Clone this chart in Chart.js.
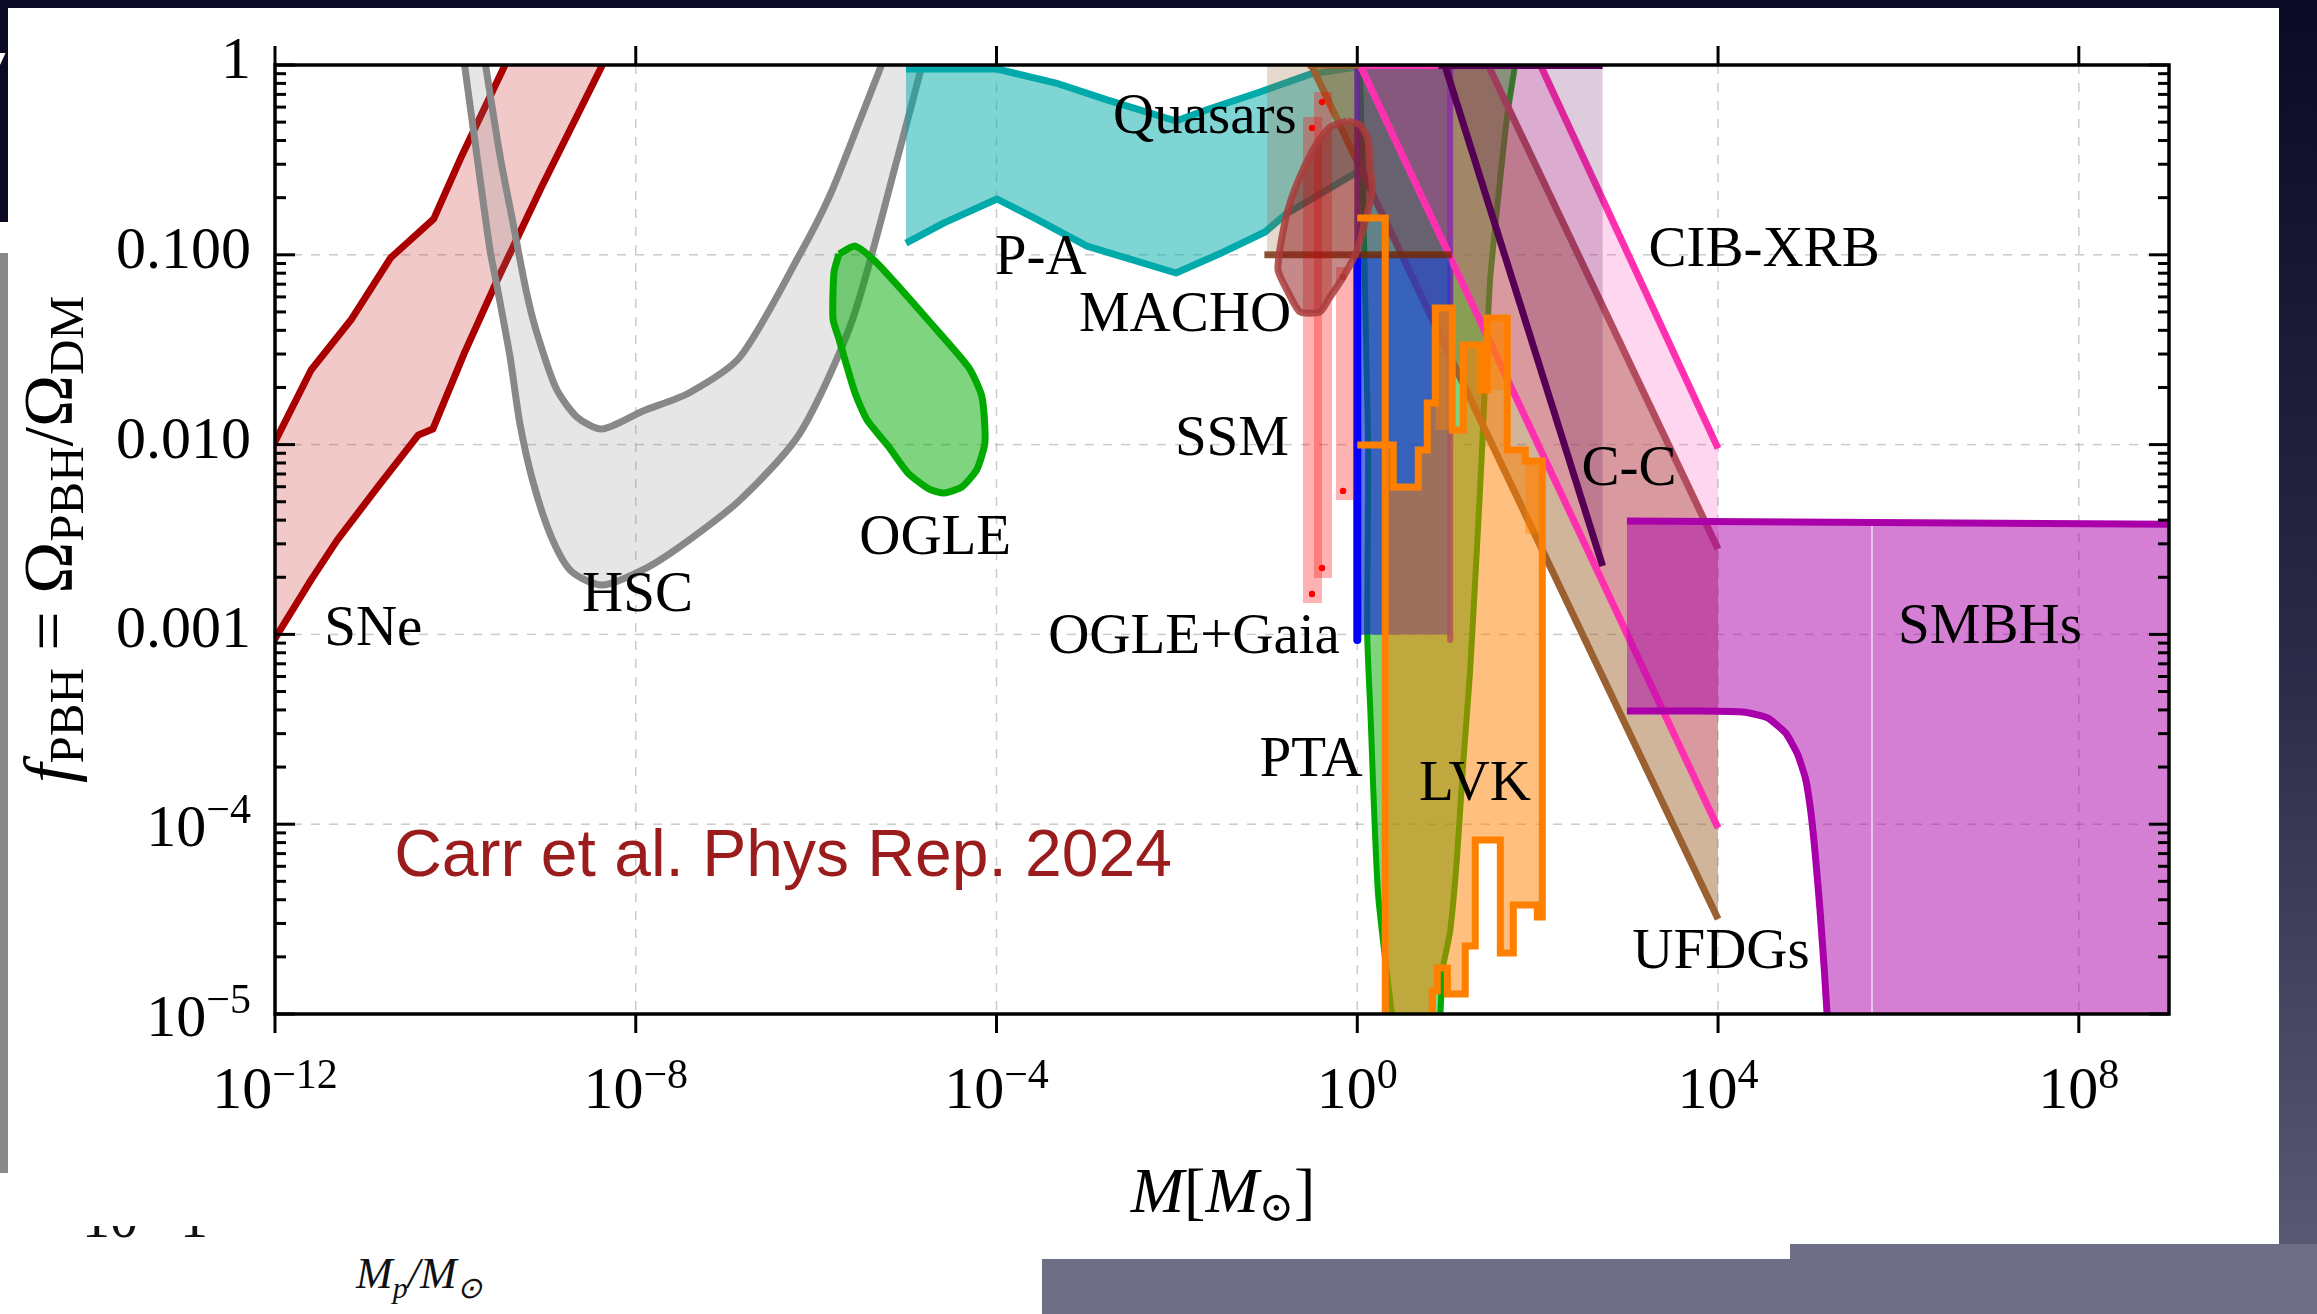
<!DOCTYPE html>
<html>
<head>
<meta charset="utf-8">
<script src="https://cdn.jsdelivr.net/npm/chart.js@4.4.1/dist/chart.umd.min.js"></script>
<style>
html,body{margin:0;padding:0;}
body{width:2317px;height:1314px;position:relative;overflow:hidden;background:#fff;}
.bg{position:absolute;}
#c{position:absolute;left:0;top:0;}
</style>
</head>
<body>
<div class="bg" style="left:0;top:0;width:2317px;height:8px;background:#0a0a24"></div>
<div class="bg" style="left:0;top:0;width:8px;height:222px;background:#0a0a24;overflow:hidden"><span style="position:absolute;left:-20px;top:40px;font:italic 70px 'Liberation Sans';color:#fff">/</span></div>
<div class="bg" style="left:0;top:253px;width:8px;height:920px;background:#8a8a8a"></div>
<div class="bg" style="left:2279px;top:0;width:38px;height:1314px;background:linear-gradient(#0a0a24,#2a2a48 50%,#5e5e78)"></div>
<div class="bg" style="left:1042px;top:1259px;width:1275px;height:55px;background:#6e6e86"></div>
<div class="bg" style="left:1790px;top:1244px;width:527px;height:70px;background:#6e6e86"></div>
<div class="bg" style="left:74px;top:1226px;width:170px;height:30px;overflow:hidden"><span style="position:absolute;left:8px;top:-40px;font:56px 'Liberation Serif';color:#111;white-space:pre">10   1</span></div>
<div class="bg" style="left:356px;top:1248px;font:italic 44px 'Liberation Serif';color:#111;white-space:nowrap">M<sub style="font-size:30px">p</sub>/M<sub style="font-size:30px">⊙</sub></div>
<canvas id="c" width="2317" height="1314"></canvas>
<script>
// ===== DATA: every point is [log10(M / M_sun), log10(f_PBH)] =====
const X_TICKS = [-12, -8, -4, 0, 4, 8];
const X_TICK_LABELS = ['10^−12', '10^−8', '10^−4', '10^0', '10^4', '10^8'];
const Y_TICKS = [0, -1, -2, -3, -4, -5];
const Y_TICK_LABELS = ['1', '0.100', '0.010', '0.001', '10^−4', '10^−5'];

const SNE_UPPER = [[-12.08,-2.06],[-11.60,-1.607],[-11.15,-1.338],[-10.72,-1.017],[-10.24,-0.811],[-9.93,-0.479],[-9.45,0.0]];
const SNE_LOWER = [[-12.08,-3.09],[-11.97,-2.998],[-11.60,-2.713],[-11.31,-2.503],[-10.86,-2.223],[-10.41,-1.949],[-10.25,-1.918],[-9.90,-1.517],[-9.54,-1.138],[-9.05,-0.648],[-8.37,0.0]];

const HSC_INNER = [[-9.672,0.02],[-9.505,-0.479],[-9.361,-0.832],[-9.217,-1.185],[-9.106,-1.396],[-8.884,-1.702],[-8.652,-1.855],[-8.374,-1.918],[-7.920,-1.823],[-7.410,-1.728],[-6.844,-1.538],[-6.179,-0.996],[-5.846,-0.685],[-5.514,-0.290],[-5.259,0.02]];
const HSC_OUTER = [[-9.904,0.02],[-9.794,-0.364],[-9.616,-0.975],[-9.539,-1.164],[-9.394,-1.538],[-9.284,-1.891],[-9.139,-2.197],[-8.940,-2.482],[-8.718,-2.666],[-8.374,-2.740],[-7.864,-2.645],[-7.410,-2.503],[-6.844,-2.292],[-6.179,-1.939],[-5.602,-1.349],[-5.092,-0.479],[-4.815,0.02]];

const OGLE = [[-5.747,-0.996],[-5.569,-0.954],[-5.347,-1.033],[-5.092,-1.164],[-4.749,-1.349],[-4.305,-1.596],[-4.161,-1.749],[-4.128,-1.986],[-4.216,-2.129],[-4.383,-2.223],[-4.582,-2.255],[-4.749,-2.234],[-4.981,-2.150],[-5.203,-2.007],[-5.436,-1.870],[-5.569,-1.728],[-5.747,-1.444],[-5.813,-1.338],[-5.802,-1.091]];

const PA_UPPER = [[-5.004,-0.021],[-3.995,-0.021],[-3.341,-0.095],[-2.775,-0.184],[-2.010,-0.295],[-1.644,-0.232],[-1.079,-0.142],[-0.513,-0.047],[0.0,-0.011]];
const PA_LOWER = [[-5.004,-0.938],[-4.582,-0.832],[-3.995,-0.706],[-3.562,-0.811],[-2.997,-0.954],[-2.010,-1.096],[-1.533,-0.996],[-1.023,-0.880],[-0.790,-0.785],[0.0,-0.564]];

const PTA_LEFT = [[0.03,0.0],[0.12,-1.99],[0.11,-3.0],[0.144,-3.393],[0.23,-4.368],[0.396,-5.05]];
const PTA_RIGHT = [[0.917,-5.05],[0.95,-4.758],[1.03,-4.563],[1.106,-4.173],[1.173,-3.688],[1.25,-3.198],[1.33,-2.518],[1.383,-2.028],[1.47,-1.149],[1.56,-0.711],[1.66,-0.274],[1.749,0.0]];

const MACHO_BOX = [[-1,0],[0,0],[0,-0.98],[-1,-0.98]];
const MACHO_LIMIT = [[-1.03,-1],[1.05,-1]];
const MACHO_TOP = [[-0.55,0],[0.03,0]];
const MACHO_BLOB = [[-0.111,-0.295],[0.033,-0.316],[0.122,-0.395],[0.144,-0.537],[0.166,-0.659],[0.111,-0.780],[0.0,-0.975],[-0.155,-1.117],[-0.302,-1.222],[-0.413,-1.301],[-0.635,-1.301],[-0.780,-1.185],[-0.879,-1.080],[-0.835,-0.906],[-0.746,-0.727],[-0.602,-0.553],[-0.447,-0.411],[-0.302,-0.327]];

// [xmin, xmax, ytop, ybottom]
const EROS_BARS = [[-0.602,-0.391,-0.274,-2.835],[-0.480,-0.280,-0.142,-2.703],[-0.236,-0.033,-1.064,-2.292]];
const EROS_DOTS = [[-0.502,-0.332],[-0.502,-2.787],[-0.391,-0.195],[-0.391,-2.650],[-0.158,-1.117],[-0.158,-2.244]];

const UFDG_LOW = [[-0.51,0],[4,-4.5]];
const UFDG_HIGH = [[1.45,0],[4,-2.55]];
const CIB_LOW = [[0.03,0],[4,-4.02]];
const CIB_HIGH = [[2.03,0],[4,-2.02]];
const XB_LINE = [[0.97,0],[2.72,-2.64]];
const PURPLE_BOX = [[0,0],[1.03,0],[1.03,-3],[0,-3]];
const BLUE_BOX = [[0,-1],[1.03,-1],[1.03,-3],[0,-3]];
const BLUE_LINE = [[0,-1],[0,-3.03]];

const LVK_UPPER = [[0.310,-2.002],[0.399,-2.002],[0.399,-2.223],[0.676,-2.223],[0.676,-2.028],[0.776,-2.028],[0.776,-1.781],[0.865,-1.781],[0.865,-1.280],[1.053,-1.280],[1.053,-1.923],[1.175,-1.923],[1.175,-1.475],[1.364,-1.475],[1.364,-1.712],[1.441,-1.712],[1.441,-1.333],[1.663,-1.333],[1.663,-2.028],[1.863,-2.028],[1.863,-2.086],[2.051,-2.086],[2.051,-4.489]];
const LVK_LOWER = [[1.996,-4.489],[1.996,-4.426],[1.730,-4.426],[1.730,-4.679],[1.586,-4.679],[1.586,-4.083],[1.308,-4.083],[1.308,-4.642],[1.197,-4.642],[1.197,-4.895],[0.998,-4.895],[0.998,-4.758],[0.887,-4.758],[0.887,-4.879],[0.832,-4.879],[0.832,-5.05],[0.310,-5.05]];
const LVK_STEP1 = [[0,-0.806],[0.31,-0.806],[0.31,-5.05]];
const LVK_DARK = [[0.865,1.053,-1.280,-1.923],[1.441,1.663,-1.333,-1.712],[1.863,2.051,-2.086,-2.47]];

const SMBH_TOP = [[2.99,-2.403],[9.05,-2.42]];
const SMBH_LOWER = [[2.99,-3.404],[3.8,-3.404],[4.3,-3.41],[4.55,-3.44],[4.75,-3.52],[4.88,-3.63],[4.97,-3.76],[5.03,-3.94],[5.08,-4.17],[5.13,-4.45],[5.18,-4.78],[5.215,-5.05]];
const SMBH_SEAM = [[5.707,-2.43],[5.707,-5.05]];

const LABELS = [
  ['SNe', -10.91, -2.975], ['HSC', -7.98, -2.80], ['OGLE', -4.68, -2.497],
  ['P-A', -3.51, -1.022], ['Quasars', -1.69, -0.279], ['MACHO', -1.91, -1.322],
  ['SSM', -1.39, -1.976], ['OGLE+Gaia', -1.81, -3.019], ['PTA', -0.513, -3.667],
  ['LVK', 1.305, -3.793], ['CIB-XRB', 4.51, -0.980], ['C-C', 3.013, -2.134],
  ['UFDGs', 4.033, -4.679], ['SMBHs', 7.015, -2.966]
];
const CARR_LABEL = ['Carr et al. Phys Rep. 2024', -6.367, -4.178];

// ===== build datasets =====
const P = arr => arr.map(([a, b]) => ({x: Math.pow(10, a), y: Math.pow(10, b)}));
const rect = ([x0, x1, y0, y1]) => [[x0,y0],[x1,y0],[x1,y1],[x0,y1]];
const DS = [];
const LW = 7;
function addFill(pts, color, tension = 0) {
  DS.push({data: P(pts), fill: 'shape', backgroundColor: color, borderColor: 'rgba(0,0,0,0)', borderWidth: 0, pointRadius: 0, tension});
}
function addLine(pts, color, width, tension = 0, join = 'round') {
  DS.push({data: P(pts), fill: false, borderColor: color, borderWidth: width, pointRadius: 0, tension, borderJoinStyle: join, borderCapStyle: 'butt'});
}
const rev = a => a.slice().reverse();

addFill([...SNE_UPPER, ...rev(SNE_LOWER)], 'rgba(200,40,40,0.25)');
addLine(SNE_UPPER, '#aa0000', LW); addLine(SNE_LOWER, '#aa0000', LW);

addFill([...HSC_INNER, ...rev(HSC_OUTER)], 'rgba(128,128,128,0.2)', 0.25);
addLine(HSC_INNER, '#888888', LW, 0.25); addLine(HSC_OUTER, '#888888', LW, 0.25);

addFill(OGLE, 'rgba(0,170,0,0.5)', 0.2);
addLine([...OGLE, OGLE[0]], '#00aa00', LW, 0.2);

addFill([...PA_UPPER, ...rev(PA_LOWER)], 'rgba(0,170,170,0.5)');
addLine(PA_UPPER, '#00aaaa', LW); addLine(PA_LOWER, '#00aaaa', LW);

addFill([...PTA_LEFT, ...PTA_RIGHT], 'rgba(0,170,0,0.5)', 0.2);
addLine(PTA_LEFT, '#00aa00', 6, 0.2); addLine(PTA_RIGHT, '#00aa00', 6, 0.2);

addFill(MACHO_BOX, 'rgba(150,100,50,0.25)');

addFill([UFDG_LOW[0], UFDG_HIGH[0], UFDG_HIGH[1], UFDG_LOW[1]], 'rgba(150,90,30,0.45)');
addLine(UFDG_LOW, '#9a6030', LW); addLine(UFDG_HIGH, '#a0524a', LW);

addFill(PURPLE_BOX, 'rgba(60,20,150,0.43)');
addLine([[0,0],[0,-3.03]], 'rgba(100,40,150,0.9)', 6);
addLine([[1.03,0],[1.03,-3.03]], 'rgba(110,50,160,0.9)', 6);

addFill([CIB_LOW[0], CIB_HIGH[0], CIB_HIGH[1], CIB_LOW[1]], 'rgba(255,50,180,0.2)');
addLine(CIB_LOW, '#ff30b0', LW); addLine(CIB_HIGH, '#ff30b0', LW);
addLine([CIB_LOW[0], [0.95, 0]], '#ff30b0', 8);

addFill([XB_LINE[0], [XB_LINE[1][0], 0], XB_LINE[1]], 'rgba(80,0,80,0.2)');
addLine(XB_LINE, '#550055', LW);
addLine([[0.9,0],[XB_LINE[1][0],0]], '#550055', 8);

addFill(BLUE_BOX, 'rgba(0,60,255,0.43)');
addLine(BLUE_LINE, '#0000ff', 8);

addLine(MACHO_LIMIT, 'rgba(115,40,0,0.8)', LW);
addLine(MACHO_TOP, '#a0642a', LW);

EROS_BARS.forEach(b => addFill(rect(b), 'rgba(255,0,0,0.3)'));
DS.push({data: P(EROS_DOTS), showLine: false, fill: false, pointRadius: 3.2, pointBackgroundColor: '#ff0000', pointBorderWidth: 0, borderColor: 'rgba(0,0,0,0)'});

addFill(MACHO_BLOB, 'rgba(140,20,20,0.5)', 0.2);
addLine([...MACHO_BLOB, MACHO_BLOB[0]], 'rgba(170,60,60,0.85)', LW, 0.2);

addFill([...LVK_UPPER, ...LVK_LOWER], 'rgba(255,128,0,0.5)');
LVK_DARK.forEach(b => addFill(rect(b), 'rgba(255,128,0,0.45)'));
addLine([[0,-2.002], ...LVK_UPPER, ...LVK_LOWER], '#ff8000', LW, 0, 'miter');
addLine(LVK_STEP1, '#ff8000', LW, 0, 'miter');

addFill([...SMBH_TOP, [9.05,-5.05], ...rev(SMBH_LOWER)], 'rgba(170,0,170,0.5)');
addLine(SMBH_SEAM, 'rgba(255,255,255,0.7)', 1.5);
addLine(SMBH_TOP, '#aa00aa', LW); addLine(SMBH_LOWER, '#aa00aa', LW, 0.15);

DS.forEach((d, i) => { d.order = DS.length - i; });

// ===== drawing helpers =====
const SERIF = "'Liberation Serif', 'DejaVu Serif', serif";
const F_MAIN = 60, F_SUP = 42;
function drawPow(ctx, label, x, y, align, raise) {
  const [base, exp] = label.split('^');
  ctx.font = `${F_MAIN}px ${SERIF}`;
  const wb = ctx.measureText(base).width;
  ctx.font = `${F_SUP}px ${SERIF}`;
  const we = exp ? ctx.measureText(exp).width : 0;
  const tot = wb + we;
  const x0 = align === 'center' ? x - tot / 2 : align === 'right' ? x - tot : x;
  ctx.textAlign = 'left'; ctx.textBaseline = 'alphabetic';
  ctx.font = `${F_MAIN}px ${SERIF}`;
  ctx.fillText(base, x0, y);
  if (exp) { ctx.font = `${F_SUP}px ${SERIF}`; ctx.fillText(exp, x0 + wb, y - raise); }
}
function drawParts(ctx, parts, cx, baseY) {
  let tot = 0;
  parts.forEach(p => { ctx.font = `${p.it ? 'italic ' : ''}${p.s}px ${SERIF}`; p.w = ctx.measureText(p.t).width; tot += p.w; });
  let x = cx - tot / 2;
  ctx.textAlign = 'left'; ctx.textBaseline = 'alphabetic';
  parts.forEach(p => { ctx.font = `${p.it ? 'italic ' : ''}${p.s}px ${SERIF}`; ctx.fillText(p.t, x, baseY + (p.dy || 0)); x += p.w; });
}

const framePlugin = {
  id: 'frame',
  beforeDatasetsDraw(chart) {
    const {ctx, chartArea: a, scales: {x, y}} = chart;
    const seg = (x1, y1, x2, y2) => { ctx.beginPath(); ctx.moveTo(x1, y1); ctx.lineTo(x2, y2); ctx.stroke(); };
    ctx.save();
    ctx.strokeStyle = 'rgba(160,160,160,0.55)'; ctx.lineWidth = 1.5; ctx.setLineDash([9, 9]);
    X_TICKS.forEach(e => { const px = x.getPixelForValue(Math.pow(10, e)); if (px > a.left + 2 && px < a.right - 2) seg(px, a.top, px, a.bottom); });
    Y_TICKS.forEach(e => { const py = y.getPixelForValue(Math.pow(10, e)); if (py > a.top + 2 && py < a.bottom - 2) seg(a.left, py, a.right, py); });
    ctx.restore();
  },
  afterDatasetsDraw(chart) {
    const {ctx, chartArea: a, scales: {x, y}} = chart;
    const seg = (x1, y1, x2, y2) => { ctx.beginPath(); ctx.moveTo(x1, y1); ctx.lineTo(x2, y2); ctx.stroke(); };
    ctx.save();
    // frame
    ctx.strokeStyle = '#000'; ctx.lineWidth = 3.5;
    ctx.strokeRect(a.left, a.top, a.right - a.left, a.bottom - a.top);
    // y ticks (inward, both sides)
    ctx.lineWidth = 3;
    for (let n = -5; n <= 0; n++) {
      for (let k = 1; k <= 9; k++) {
        const v = k * Math.pow(10, n);
        if (v > 1.0001) break;
        const py = y.getPixelForValue(v);
        const len = k === 1 ? 20 : 11;
        seg(a.left, py, a.left + len, py);
        seg(a.right, py, a.right - len, py);
      }
    }
    // x ticks (outward, top and bottom)
    X_TICKS.forEach(e => { const px = x.getPixelForValue(Math.pow(10, e)); seg(px, a.bottom, px, a.bottom + 19); seg(px, a.top, px, a.top - 19); });
    // tick labels
    ctx.fillStyle = '#000';
    Y_TICKS.forEach((e, i) => {
      const py = y.getPixelForValue(Math.pow(10, e));
      const lab = Y_TICK_LABELS[i];
      if (lab.includes('^')) drawPow(ctx, lab, a.left - 24, py + 22, 'right', 23);
      else drawPow(ctx, lab, a.left - 24, py + 13, 'right', 0);
    });
    X_TICKS.forEach((e, i) => {
      const px = x.getPixelForValue(Math.pow(10, e));
      drawPow(ctx, X_TICK_LABELS[i], px, a.bottom + 94, 'center', 20);
    });
    // x title
    drawParts(ctx, [
      {t: 'M', it: true, s: 64}, {t: '[', s: 64}, {t: 'M', it: true, s: 64},
      {t: '⊙', s: 42, dy: 9}, {t: ']', s: 64}
    ], (a.left + a.right) / 2 + 1, a.bottom + 198);
    // y title (rotated)
    ctx.save();
    ctx.translate(72, (a.top + a.bottom) / 2);
    ctx.rotate(-Math.PI / 2);
    drawParts(ctx, [
      {t: 'f', it: true, s: 70}, {t: 'PBH', s: 49, dy: 11}, {t: ' = ', s: 70},
      {t: 'Ω', s: 70}, {t: 'PBH', s: 49, dy: 11}, {t: '/', s: 70},
      {t: 'Ω', s: 70}, {t: 'DM', s: 49, dy: 11}
    ], 0, 0);
    ctx.restore();
    // region labels
    ctx.textAlign = 'center'; ctx.textBaseline = 'middle';
    ctx.font = `57px ${SERIF}`; ctx.fillStyle = '#000';
    LABELS.forEach(([t, lx, ly]) => ctx.fillText(t, x.getPixelForValue(Math.pow(10, lx)), y.getPixelForValue(Math.pow(10, ly))));
    ctx.font = "66px 'Liberation Sans', Arial, sans-serif"; ctx.fillStyle = '#9b1c1c';
    ctx.fillText(CARR_LABEL[0], x.getPixelForValue(Math.pow(10, CARR_LABEL[1])), y.getPixelForValue(Math.pow(10, CARR_LABEL[2])));
    ctx.restore();
  }
};

new Chart(document.getElementById('c').getContext('2d'), {
  type: 'line',
  data: {datasets: DS},
  options: {
    responsive: false,
    animation: false,
    devicePixelRatio: 1,
    layout: {padding: {top: 65, right: 148, left: 0, bottom: 0}},
    plugins: {legend: {display: false}, tooltip: {enabled: false}, filler: {propagate: false}},
    elements: {point: {radius: 0}},
    scales: {
      x: {type: 'logarithmic', min: 1e-12, max: 1e9, ticks: {display: false}, grid: {display: false}, border: {display: false},
          afterFit: s => { s.height = 300; }},
      y: {type: 'logarithmic', min: 1e-5, max: 1, ticks: {display: false}, grid: {display: false}, border: {display: false},
          afterFit: s => { s.width = 275; }}
    }
  },
  plugins: [framePlugin]
});
</script>
</body>
</html>
